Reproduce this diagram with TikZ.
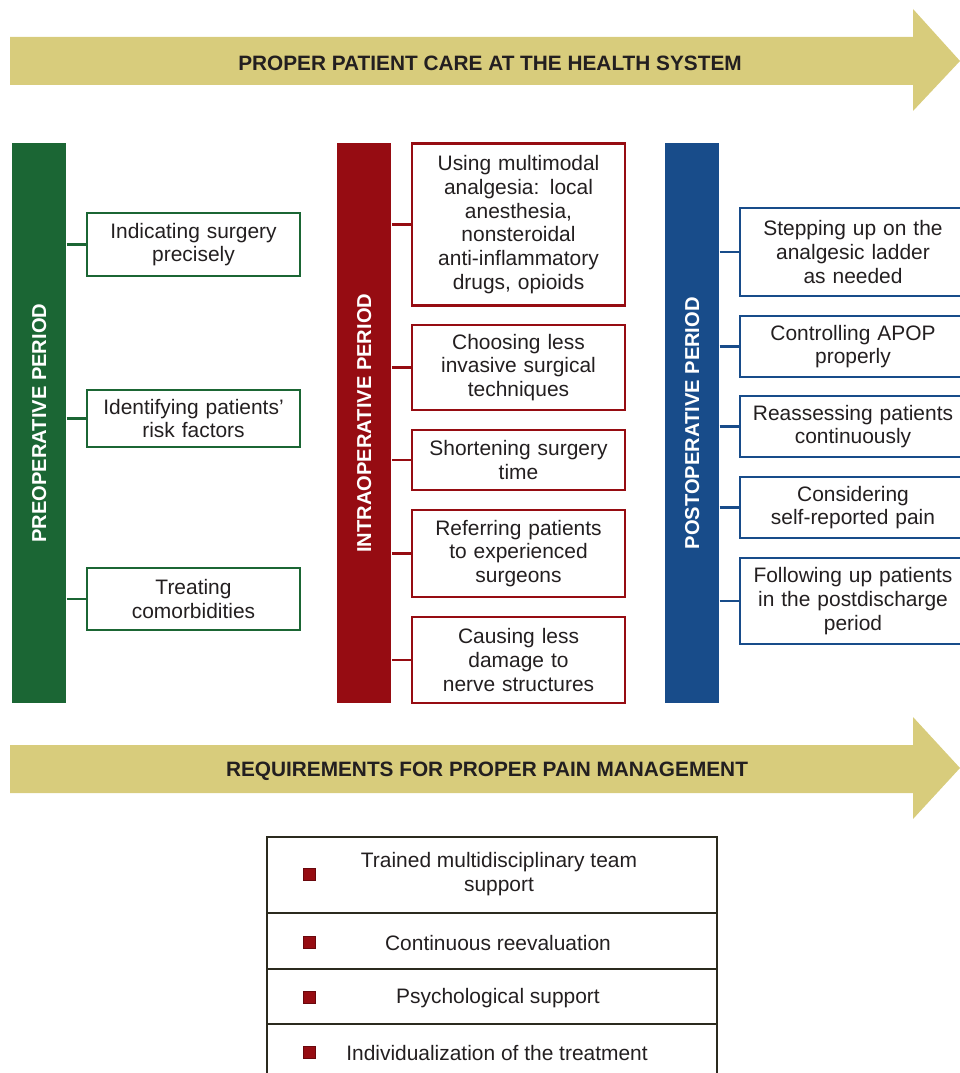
\documentclass[tikz,border=0pt]{standalone}
\usepackage{fontspec}
\setmainfont{Liberation Sans}
\definecolor{khaki}{RGB}{216,204,124}
\definecolor{pgreen}{RGB}{27,102,52}
\definecolor{pred}{RGB}{150,12,18}
\definecolor{pblue}{RGB}{24,76,138}
\definecolor{ink}{RGB}{35,31,32}
\definecolor{tline}{RGB}{43,42,30}
\begin{document}
\begin{tikzpicture}[x=0.75pt,y=-0.75pt,
  bodyfont/.style={font=\fontsize{15.7}{17.8}\selectfont, text=ink},
  bar/.style={rectangle, inner sep=0pt, minimum width=40.5pt, minimum height=420pt, anchor=north west},
  barlabel/.style={rotate=90, text=white, font=\bfseries\fontsize{15.1}{18}\selectfont},
  item/.style={bodyfont, rectangle, draw=#1, line width=1.6pt, fill=white, inner sep=0pt, align=center},
  gitem/.style={item=pgreen, minimum width=159.75pt, text width=155pt},
  ritem/.style={item=pred, minimum width=159.75pt, text width=155pt},
  bitem/.style={item=pblue, minimum width=169.5pt, text width=165pt},
  conn/.style={line width=1.6pt},
  banner/.style={font=\bfseries\fontsize{15.6}{18}\selectfont, text=ink},
  trow/.style={rectangle, draw=tline, line width=1.9pt, minimum width=337.5pt, inner sep=0pt},
  sq/.style={rectangle, fill=pred, draw=pred!70!black, line width=0.4pt, minimum size=9pt, inner sep=0pt},
  ttext/.style={bodyfont, align=center}
]
\useasboundingbox (0,0) rectangle (959,1073);

% top banner arrow
\fill[khaki] (10,37) -- (913,37) -- (913,9) -- (960,61) -- (913,111) -- (913,85) -- (10,85) -- cycle;
\node[banner] (topt) at (490,63) {PROPER PATIENT CARE AT THE HEALTH SYSTEM};

% bars
\node[bar, fill=pgreen] (gbar) at (12,143) {};
\node[bar, fill=pred] (rbar) at (337,143) {};
\node[bar, fill=pblue] (bbar) at (665,143) {};
\node[barlabel] (gl) at (gbar.center) {PREOPERATIVE PERIOD};
\node[barlabel] (rl) at (rbar.center) {INTRAOPERATIVE PERIOD};
\node[barlabel] (bl) at (bbar.center) {POSTOPERATIVE PERIOD};

% green items
\node[gitem, minimum height=47.25pt] (g1) at (193.5,244.5) {Indicating surgery\\precisely};
\node[gitem, minimum height=42.75pt] (g2) at (193.5,418.5) {Identifying patients'\\risk factors};
\node[gitem, minimum height=46.5pt] (g3) at (193.5,599) {Treating\\comorbidities};

% red items
\node[ritem, minimum height=121.5pt] (r1) at (518.5,224.5) {Using multimodal\\analgesia: local\\anesthesia,\\nonsteroidal\\anti-inflammatory\\drugs, opioids};
\node[ritem, minimum height=63.75pt] (r2) at (518.5,367.5) {Choosing less\\invasive surgical\\techniques};
\node[ritem, minimum height=45pt] (r3) at (518.5,460) {Shortening surgery\\time};
\node[ritem, minimum height=65.25pt] (r4) at (518.5,553.5) {Referring patients\\to experienced\\surgeons};
\node[ritem, minimum height=64.5pt] (r5) at (518.5,660) {Causing less\\damage to\\nerve structures};

% blue items
\node[bitem, minimum height=66pt] (b1) at (853,252) {Stepping up on the\\analgesic ladder\\as needed};
\node[bitem, minimum height=45.75pt] (b2) at (853,346.5) {Controlling APOP\\properly};
\node[bitem, minimum height=45.75pt] (b3) at (853,426.5) {Reassessing patients\\continuously};
\node[bitem, minimum height=45.75pt] (b4) at (853,507.5) {Considering\\self-reported pain};
\node[bitem, minimum height=64.5pt] (b5) at (853,601) {Following up patients\\in the postdischarge\\period};

% connectors
\foreach \n in {g1,g2,g3} \draw[conn, pgreen] (gbar.east |- \n.west) -- (\n.west);
\foreach \n in {r1,r2,r3,r4,r5} \draw[conn, pred] (rbar.east |- \n.west) -- (\n.west);
\foreach \n in {b1,b2,b3,b4,b5} \draw[conn, pblue] (bbar.east |- \n.west) -- (\n.west);

% bottom banner arrow
\fill[khaki] (10,745) -- (913,745) -- (913,717) -- (960,768) -- (913,819) -- (913,793) -- (10,793) -- cycle;
\node[banner] (bott) at (487,771) {REQUIREMENTS FOR PROPER PAIN MANAGEMENT};

% table
\node[trow, minimum height=57pt] (t1) at (492,875) {};
\node[trow, minimum height=42pt] (t2) at (492,941) {};
\node[trow, minimum height=41.25pt] (t3) at (492,996.5) {};
\node[trow, minimum height=45pt] (t4) at (492,1054) {};
\node[sq] (s1) at (309.5,874) {};
\node[sq] (s2) at (309.5,942) {};
\node[sq] (s3) at (309.5,997) {};
\node[sq] (s4) at (309.5,1052) {};
\node[ttext] (x1) at (499,874) {Trained multidisciplinary team\\support};
\node[ttext] (x2) at (498,943) {Continuous reevaluation};
\node[ttext] (x3) at (498,998) {Psychological support};
\node[ttext] (x4) at (497,1053) {Individualization of the treatment};
\end{tikzpicture}
\end{document}
